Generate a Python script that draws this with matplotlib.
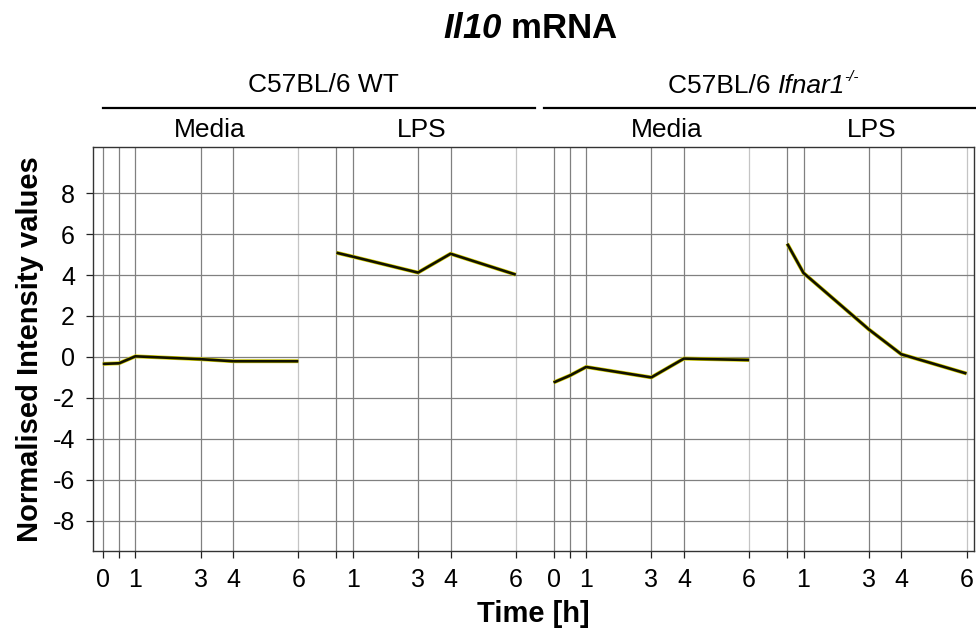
import matplotlib
matplotlib.use("Agg")
import matplotlib.pyplot as plt
from matplotlib.lines import Line2D

plt.rcParams['font.family'] = ['Liberation Sans', 'DejaVu Sans']
plt.rcParams['axes.unicode_minus'] = False
plt.rcParams['mathtext.fontset'] = 'custom'
plt.rcParams['mathtext.rm'] = 'Liberation Sans'
plt.rcParams['mathtext.it'] = 'Liberation Sans:italic'
plt.rcParams['mathtext.bf'] = 'Liberation Sans:bold'
plt.rcParams['mathtext.bfit'] = 'Liberation Sans:italic:bold'

# data
times = [0, 0.5, 1, 3, 4, 6]
times_lps = [0.5, 1, 3, 4, 6]
wt_media = [-0.34, -0.31, 0.03, -0.11, -0.21, -0.21]
wt_lps = [5.09, 4.9, 4.12, 5.04, 4.02]
ko_media = [-1.25, -0.91, -0.49, -1.0, -0.08, -0.15]
ko_lps = [5.53, 4.1, 1.35, 0.13, -0.81]

panels = [("Media", times, wt_media),
          ("LPS", times_lps, wt_lps),
          ("Media", times, ko_media),
          ("LPS", times_lps, ko_lps)]
offsets = [0, 6.67, 13.83, 20.5]

fig = plt.figure(figsize=(9.76, 6.32), dpi=100)
ax = fig.add_axes([93 / 976, 81 / 632, 881 / 976, 404.3 / 632])

xt = []
xl = []
for (name, t, vals), off in zip(panels, offsets):
    xs = [off + v for v in t]
    for v, x in zip(t, xs):
        c = '#c4c4c4' if v == 6 else '#808080'
        ax.axvline(x, color=c, lw=0.9, zorder=0)
        xt.append(x)
        xl.append('' if v == 0.5 else '%g' % v)
    ax.plot(xs, vals, color='#d6d000', lw=2.8, solid_capstyle='butt', zorder=2)
    ax.plot(xs, vals, color='#111100', lw=1.9, solid_capstyle='butt', zorder=3)

ax.set_xlim(-0.3, 26.73)
ax.set_ylim(-9.48, 10.27)
ax.set_yticks(range(-8, 9, 2))
ax.set_xticks(xt)
ax.set_xticklabels(xl)
ax.yaxis.grid(True, color='#808080', lw=0.9)
ax.set_axisbelow(True)
ax.tick_params(axis='both', labelsize=18, length=5, width=0.9, color='#222222')
ax.tick_params(axis='x', pad=7)
ax.tick_params(axis='y', pad=8)
for s in ax.spines.values():
    s.set_color('#333333')
    s.set_linewidth(1.0)

ax.set_ylabel('Normalised Intensity values', fontsize=21, fontweight='bold')
ax.set_xlabel('Time [h]', fontsize=21, fontweight='bold')
ax.yaxis.set_label_coords(-0.056, 0.5)
ax.xaxis.set_label_coords(0.5, -0.12)

# headers
def fx(px):
    return px / 976

def fy(py):
    return 1 - py / 632

fig.text(fx(530), fy(28), r'$\mathbfit{Il10}$ mRNA', fontsize=25, fontweight='bold',
         ha='center', va='center')
fig.text(fx(323), fy(85), 'C57BL/6 WT', fontsize=19, ha='center', va='center')

# C57BL/6 Ifnar1-/- built from pieces: plain, italic, small superscript
t1 = fig.text(fx(668), fy(93), 'C57BL/6 ', fontsize=19, ha='left', va='baseline')
fig.canvas.draw()
bb = t1.get_window_extent()
t2 = fig.text(bb.x1 / fig.bbox.width, fy(93), 'Ifnar1', fontsize=19, style='italic',
              ha='left', va='baseline')
fig.canvas.draw()
bb2 = t2.get_window_extent()
fig.text(bb2.x1 / fig.bbox.width - 0.001, fy(81), '-/-', fontsize=11, style='italic',
         ha='left', va='baseline')

for x0, x1 in [(103, 535), (544, 975)]:
    fig.add_artist(Line2D([fx(x0), fx(x1)], [fy(108), fy(108)], color='black', lw=1.6))
for x, label in [(210, 'Media'), (422, 'LPS'), (667, 'Media'), (872, 'LPS')]:
    fig.text(fx(x), fy(130), label, fontsize=19, ha='center', va='center')

fig.savefig('out.png', dpi=100)
